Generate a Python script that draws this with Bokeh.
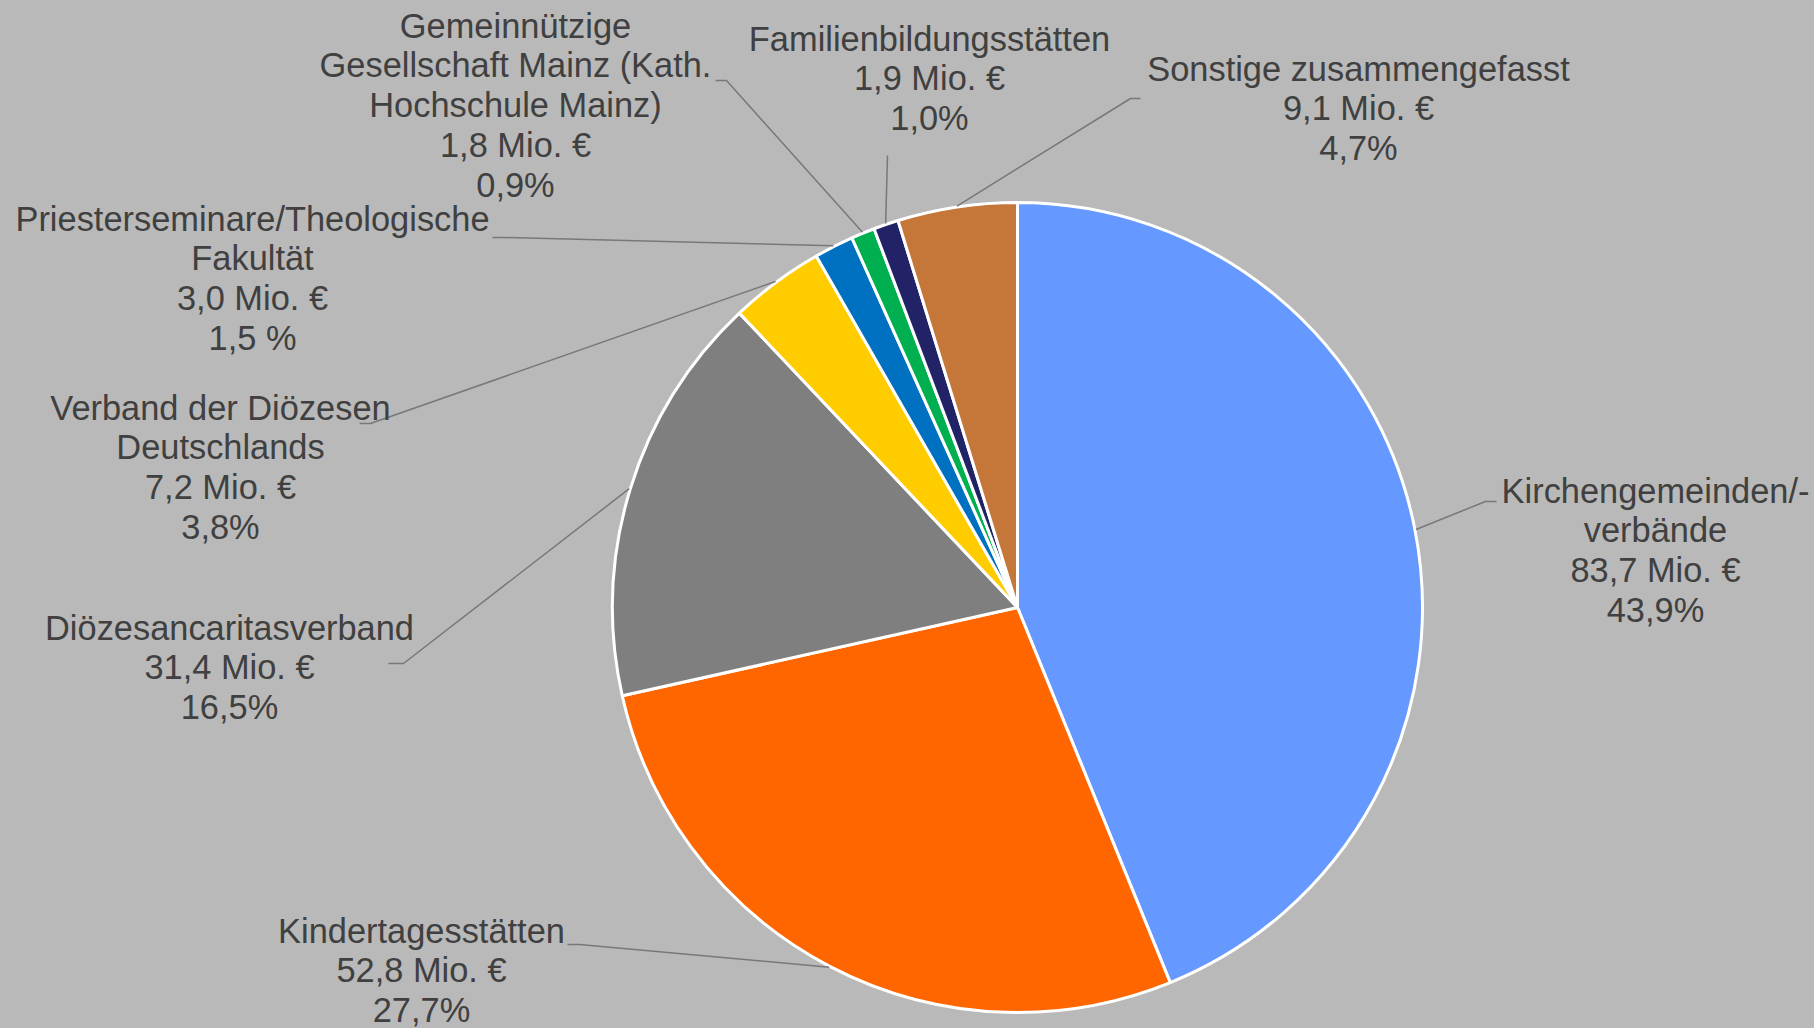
import math
from bokeh.plotting import figure
from bokeh.models import Range1d, ColumnDataSource
from bokeh.core.properties import value
from bokeh.embed import file_html
from bokeh.resources import INLINE

# ---------------- data ----------------
categories = [
    "Kirchengemeinden/-\nverbände",
    "Kindertagesstätten",
    "Diözesancaritasverband",
    "Verband der Diözesen\nDeutschlands",
    "Priesterseminare/Theologische\nFakultät",
    "Gemeinnützige\nGesellschaft Mainz (Kath.\nHochschule Mainz)",
    "Familienbildungsstätten",
    "Sonstige zusammengefasst",
]
values = [83.7, 52.8, 31.4, 7.2, 3.0, 1.8, 1.9, 9.1]
value_labels = ["83,7 Mio. €", "52,8 Mio. €", "31,4 Mio. €", "7,2 Mio. €",
                "3,0 Mio. €", "1,8 Mio. €", "1,9 Mio. €", "9,1 Mio. €"]
percent_labels = ["43,9%", "27,7%", "16,5%", "3,8%", "1,5 %", "0,9%", "1,0%", "4,7%"]
colors = ["#6699FF", "#FF6600", "#7F7F7F", "#FFCC00", "#0070C0", "#00B050",
          "#222266", "#C5773A"]

# ---------------- layout (screen pixels of the page) ----------------
W, H = 1814, 1028
BG = "#B9B9B9"
TEXT = "#404040"
CX, CY, R = 1017, 607, 405
LINE_H = 39.8
TEXT_SHIFT = -12
label_x = [1655, 421, 229, 220, 252, 515, 929, 1358]
label_base = [502, 942, 639, 419, 230, 37, 50, 80]
leader_elbow = [(1485, 501), (579, 944), (403, 663), (370, 423), (503, 237),
                (726, 80), (887, 155), (1130, 98)]
leader_end = [(1496, 501), (567, 944), (388, 663), (359, 423), (492, 237),
              (715, 80), (887, 155), (1140, 98)]


def fy(y):
    return H - y


p = figure(width=W, height=H, output_backend="svg",
           toolbar_location=None, x_range=Range1d(0, W),
           y_range=Range1d(0, H), min_border=0)
p.axis.visible = False
p.grid.visible = False
p.outline_line_color = None
p.background_fill_color = BG
p.border_fill_color = BG

total = sum(values)
starts, ends, mids = [], [], []
cum = 0.0
for v in values:
    a0 = cum / total
    cum += v
    a1 = cum / total
    starts.append(math.pi / 2 - 2 * math.pi * a0)
    ends.append(math.pi / 2 - 2 * math.pi * a1)
    mids.append(math.pi / 2 - 2 * math.pi * (a0 + a1) / 2)

src = ColumnDataSource(dict(start=starts, end=ends, color=colors))
p.wedge(x=CX, y=fy(CY), radius=R, start_angle="start", end_angle="end",
        direction="clock", fill_color="color", line_color="white",
        line_width=3, source=src)

# leader lines
xs, ys = [], []
for m, el, en in zip(mids, leader_elbow, leader_end):
    ex = CX + (R + 1) * math.cos(m)
    ey = fy(CY) + (R + 1) * math.sin(m)
    xs.append([ex, el[0], en[0]])
    ys.append([ey, fy(el[1]), fy(en[1])])
p.multi_line(xs=xs, ys=ys, line_color="#787878", line_width=1.5)

# labels
tx, ty, tt = [], [], []
for i in range(len(categories)):
    lines = categories[i].split("\n") + [value_labels[i], percent_labels[i]]
    for k, line in enumerate(lines):
        tx.append(label_x[i])
        ty.append(fy(label_base[i] + TEXT_SHIFT + k * LINE_H))
        tt.append(line)
p.text(x=tx, y=ty, text=tt, text_font=value("Liberation Sans"),
       text_font_size="34.4px", text_color=TEXT, text_align="center",
       text_baseline="alphabetic")

html = file_html(p, INLINE)
html = html.replace("</head>", "<style>html,body{background:%s;}</style></head>" % BG, 1)
open("out.html", "w").write(html)
